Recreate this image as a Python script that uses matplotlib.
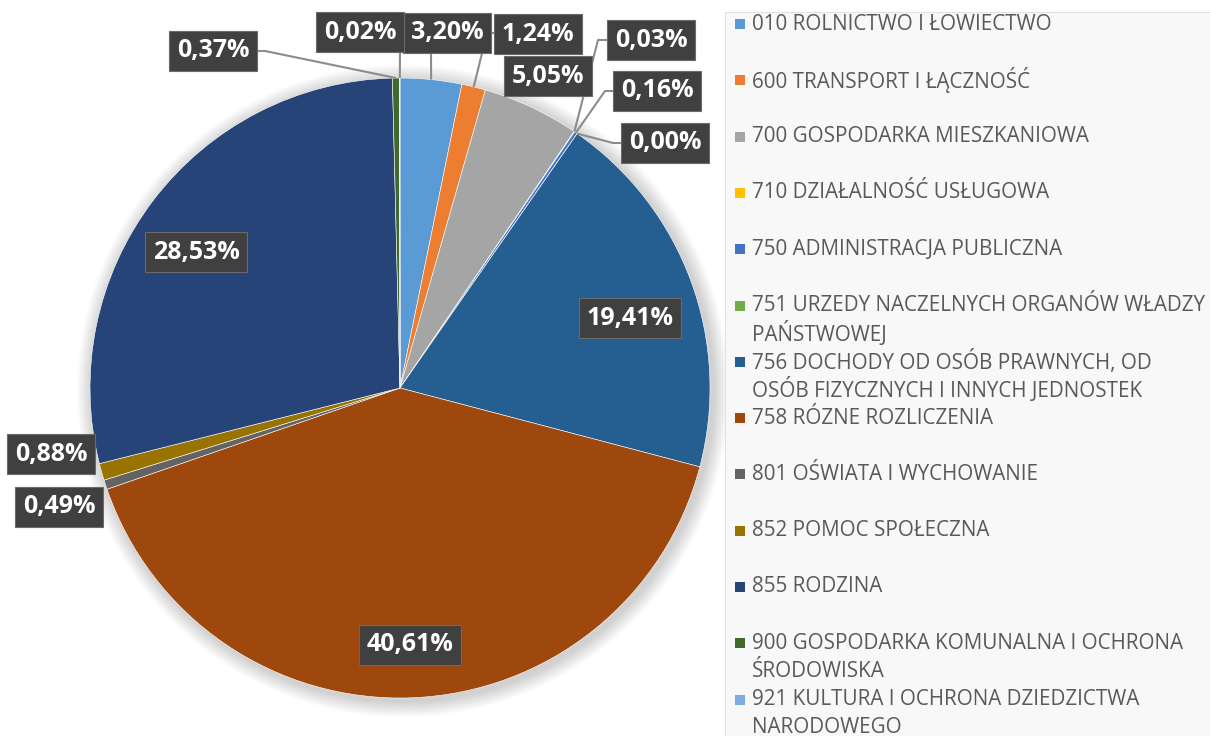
import numpy as np
import matplotlib.pyplot as plt
from matplotlib.patches import Circle, Rectangle

W, H = 1210, 736

kody = ['010', '600', '700', '710', '750', '751', '756', '758', '801', '852', '855', '900', '921']
nazwy = ['ROLNICTWO I ŁOWIECTWO',
         'TRANSPORT I ŁĄCZNOŚĆ',
         'GOSPODARKA MIESZKANIOWA',
         'DZIAŁALNOŚĆ USŁUGOWA',
         'ADMINISTRACJA PUBLICZNA',
         'URZEDY NACZELNYCH ORGANÓW WŁADZY\nPAŃSTWOWEJ',
         'DOCHODY OD OSÓB PRAWNYCH, OD\nOSÓB FIZYCZNYCH I INNYCH JEDNOSTEK',
         'RÓZNE ROZLICZENIA',
         'OŚWIATA I WYCHOWANIE',
         'POMOC SPOŁECZNA',
         'RODZINA',
         'GOSPODARKA KOMUNALNA I OCHRONA\nŚRODOWISKA',
         'KULTURA I OCHRONA DZIEDZICTWA\nNARODOWEGO']
udzial = [3.20, 1.24, 5.05, 0.03, 0.16, 0.00, 19.41, 40.61, 0.49, 0.88, 28.53, 0.37, 0.02]
kolory = ['#5B9BD5', '#ED7D31', '#A5A5A5', '#FFC000', '#4472C4', '#70AD47', '#255E91',
          '#9E480E', '#636363', '#997300', '#264478', '#43682B', '#7CAFDD']

# label box centres (pixels, y down) and leader paths from box side to wedge
etyk_xy = [(447, 33), (538, 34), (548, 76), (651, 40), (657, 91), (665, 143), (630, 318),
           (410, 645), (59, 507), (51, 454), (196, 252), (213, 51), (360, 32)]
linie = {0: [(431, 53)],
         1: [(487, 33), (498, 33)],
         3: [(598, 40), (611, 40)],
         4: [(605, 91), (616, 91)],
         5: [(613, 143), (623, 143)],
         11: [(265, 51), (255, 51)],
         12: [(400, 51)]}

plt.rcParams['font.family'] = ['Open Sans', 'DejaVu Sans']

fig = plt.figure(figsize=(W / 100, H / 100), dpi=100)
ax = fig.add_axes([0, 0, 1, 1])

cx, cy, R = 400, 388, 310

# soft shadow round the pie
for i in range(16):
    ax.add_patch(Circle((cx + 3, cy + 3), R + 16 - i, color='#808080', alpha=0.025, lw=0, zorder=0))

wedges, _ = ax.pie(udzial, colors=kolory, startangle=-90, counterclock=True,
                   radius=R, center=(cx, cy),
                   wedgeprops=dict(edgecolor='white', linewidth=0.4))
for w in wedges:
    w.set_zorder(1)

ax.set_xlim(0, W)
ax.set_ylim(H, 0)
ax.axis('off')

for i, w in enumerate(wedges):
    tx, ty = etyk_xy[i]
    tekst = f'{udzial[i]:.2f}%'.replace('.', ',')
    ax.text(tx, ty, tekst, ha='center', va='center', color='white', fontsize=18,
            fontweight='bold', zorder=5,
            bbox=dict(boxstyle='square,pad=0.3', facecolor='#404040', edgecolor='#6a6a6a', lw=0.8))
    if i in linie:
        kat = np.deg2rad((w.theta1 + w.theta2) / 2)
        ax0 = cx + R * np.cos(kat)
        ay0 = cy + R * np.sin(kat)
        pts = [(ax0, ay0)] + linie[i]
        ax.plot([p[0] for p in pts], [p[1] for p in pts], color='#8C8C8C', lw=1.5,
                zorder=3, solid_capstyle='butt')

# legend panel
ax.add_patch(Rectangle((725, 12), 500, 740, facecolor='#F8F8F8', edgecolor='#E2E2E2',
                       lw=0.8, zorder=0))
y0, krok, wiersz = 24, 56.3, 28
for i in range(len(kody)):
    y = y0 + i * krok
    ax.add_patch(Rectangle((735, y - 5), 10, 10, facecolor=kolory[i], lw=0, zorder=2))
    for j, czesc in enumerate((kody[i] + ' ' + nazwy[i]).split('\n')):
        ax.text(752, y + j * wiersz, czesc, ha='left', va='center', color='#595959',
                fontsize=14.9, zorder=2)

fig.savefig('out.png', dpi=100)
